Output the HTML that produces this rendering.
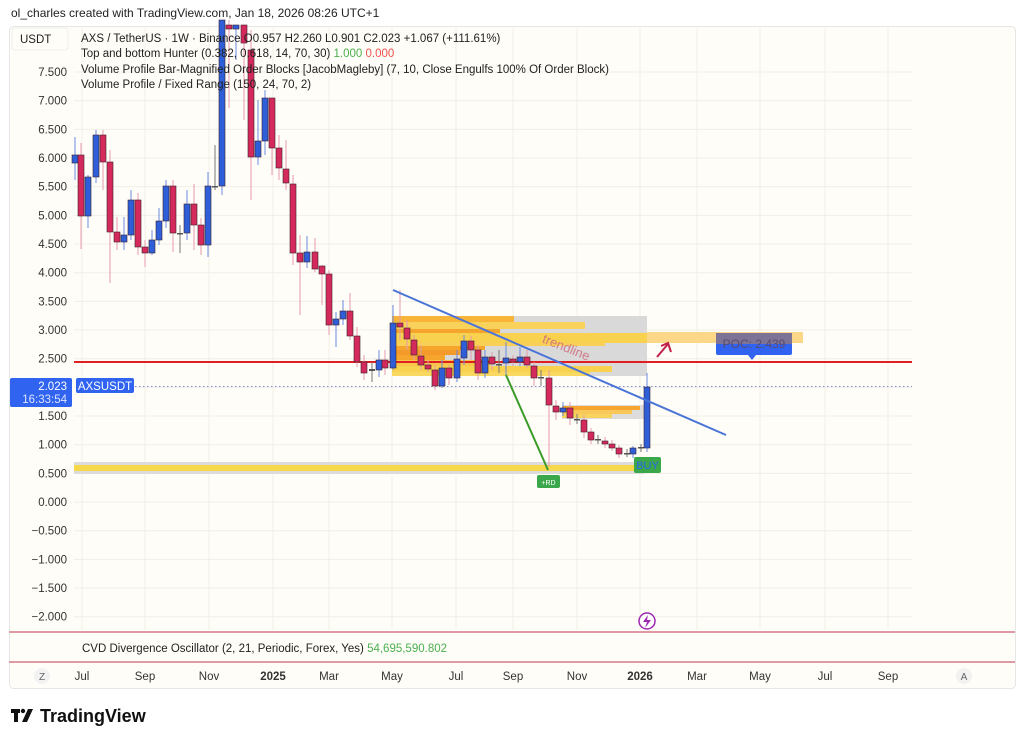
<!DOCTYPE html>
<html><head><meta charset="utf-8"><style>
body{margin:0;background:#fff;width:1024px;height:743px;overflow:hidden;font-family:"Liberation Sans",Arial,sans-serif}
svg text{font-family:"Liberation Sans",Arial,sans-serif}
</style></head><body>
<svg id="s" width="1024" height="743" xmlns="http://www.w3.org/2000/svg">
<text x="11" y="17" font-size="12" fill="#222">ol_charles created with TradingView.com, Jan 18, 2026 08:26 UTC+1</text>
<rect x="9.5" y="26.5" width="1006" height="662" rx="4" fill="#fffdf7" stroke="#e6e6e6"/>
<g id="grid" stroke="#f0eee6" stroke-width="1"></g>
<g id="ylab" font-size="11.5" fill="#333" text-anchor="end"></g>
<!-- bottom band -->
<rect x="74" y="462" width="570" height="12" fill="#dcdcdc"/>
<rect x="74" y="465" width="566" height="6" fill="#f5d94a"/>
<!-- volume profile -->
<rect x="392" y="316" width="255" height="60" fill="#d9d9d9"/>
<g id="vp"></g>
<rect x="647" y="332" width="156" height="11" fill="#fbd787"/>
<!-- small OB -->
<rect x="562" y="405" width="84" height="14" fill="#dcdcdc"/>
<rect x="562" y="406" width="78" height="4" fill="#f7a52e"/>
<rect x="562" y="410" width="70" height="4" fill="#f9c85a"/>
<rect x="562" y="414" width="50" height="4" fill="#f8d45e"/>
<!-- red line / dotted -->
<line x1="74" y1="362" x2="912" y2="362" stroke="#e02020" stroke-width="2"/>
<line x1="135" y1="386.5" x2="912" y2="386.5" stroke="#7b8ad0" stroke-dasharray="1.5,2.5"/>
<g id="cd"></g>
<!-- lines -->
<line x1="393" y1="290" x2="726" y2="435" stroke="#4a74d8" stroke-width="2"/>
<line x1="506" y1="375" x2="548" y2="470" stroke="#3a9a2a" stroke-width="2"/>
<text x="538" y="350" font-size="13" fill="#d07080" transform="rotate(22 560 355)" opacity="0.9">trendline</text>
<line x1="657" y1="357" x2="668" y2="344" stroke="#c0204a" stroke-width="2"/>
<polyline points="661,346 668,343 671,352" fill="none" stroke="#c0204a" stroke-width="2"/>
<!-- POC label -->
<rect x="716" y="333" width="76" height="22" rx="2" fill="#2f63f0"/>
<polygon points="748,355 756,355 752,360" fill="#2f63f0"/>
<rect x="716" y="333" width="76" height="11" fill="#7d7396"/>
<text x="754" y="348" font-size="12" text-anchor="middle" fill="#5a4a70">POC: 2.439</text>
<!-- BUY / RD -->
<rect x="634" y="457" width="27" height="16" rx="2" fill="#3aa84a"/>
<text x="647.5" y="469" font-size="11" text-anchor="middle" fill="#2f63f0">BUY</text>
<rect x="537" y="475" width="23" height="13" rx="2" fill="#3aa84a"/>
<text x="548.5" y="485" font-size="7" text-anchor="middle" fill="#fff">+RD</text>
<!-- price labels -->
<rect x="10" y="378" width="62" height="29" rx="2" fill="#2f63f0"/>
<text x="67" y="390" font-size="11.5" text-anchor="end" fill="#fff">2.023</text>
<text x="67" y="403" font-size="11.5" text-anchor="end" fill="#dce4ff">16:33:54</text>
<rect x="76" y="378" width="58" height="15" rx="2" fill="#2f63f0"/>
<text x="105" y="390" font-size="11.5" text-anchor="middle" fill="#fff">AXSUSDT</text>
<!-- legend -->
<rect x="12" y="28" width="56" height="22" rx="3" fill="#fffdf7" stroke="#eee"/>
<text x="20" y="43" font-size="11.5" fill="#222">USDT</text>
<g font-size="11.5" fill="#222">
<text x="81" y="42">AXS / TetherUS · 1W · Binance  O0.957  H2.260  L0.901  C2.023  +1.067 (+111.61%)</text>
<text x="81" y="57">Top and bottom Hunter (0.382, 0.618, 14, 70, 30)  <tspan fill="#4caf50">1.000</tspan>  <tspan fill="#ef5350">0.000</tspan></text>
<text x="81" y="73">Volume Profile Bar-Magnified Order Blocks [JacobMagleby] (7, 10, Close Engulfs 100% Of Order Block)</text>
<text x="81" y="88">Volume Profile / Fixed Range (150, 24, 70, 2)</text>
</g>
<!-- lightning -->
<circle cx="647" cy="621" r="8" fill="#fff" stroke="#9c27b0" stroke-width="1.5"/>
<polygon points="648,615 643,622 647,622 645,628 651,620 647,620" fill="#9c27b0"/>
<!-- pane separators -->
<line x1="9" y1="632" x2="1015" y2="632" stroke="#e09aa6" stroke-width="2"/>
<line x1="9" y1="662" x2="1015" y2="662" stroke="#e09aa6" stroke-width="2"/>
<text x="82" y="652" font-size="11.5" fill="#222">CVD Divergence Oscillator (2, 21, Periodic, Forex, Yes)  <tspan fill="#4caf50">54,695,590.802</tspan></text>
<g id="xlab" font-size="11.5" fill="#333" text-anchor="middle"></g>
<circle cx="42" cy="676" r="8" fill="#f2f2f2"/><text x="42" y="680" font-size="10" text-anchor="middle" fill="#666">Z</text>
<circle cx="964" cy="676" r="8" fill="#f2f2f2"/><text x="964" y="680" font-size="10" text-anchor="middle" fill="#666">A</text>
<!-- logo -->
<rect x="11" y="709" width="9" height="4" fill="#111"/><rect x="14" y="709" width="4" height="13" fill="#111"/>
<circle cx="23" cy="711" r="2.2" fill="#111"/><polygon points="28,709 33,709 27,722 22,722" fill="#111"/>
<text x="40" y="722" font-size="18" font-weight="bold" fill="#111">TradingView</text>
</svg>
<script>
var NS="http://www.w3.org/2000/svg";
function el(p,t,a){var e=document.createElementNS(NS,t);for(var k in a)e.setAttribute(k,a[k]);document.getElementById(p).appendChild(e);return e;}
// grid
var vx=[82,145,209,273,329,392,456,513,577,640,697,760,825,888];
vx.forEach(function(x){el("grid","line",{x1:x,y1:28,x2:x,y2:630});});
var labs=["7.500","7.000","6.500","6.000","5.500","5.000","4.500","4.000","3.500","3.000","2.500","2.000","1.500","1.000","0.500","0.000","−0.500","−1.000","−1.500","−2.000"];
for(var i=0;i<labs.length;i++){var y=72+i*28.67;el("grid","line",{x1:74,y1:y,x2:912,y2:y});
 if(i!=11){var t=el("ylab","text",{x:67,y:y+4});t.textContent=labs[i];}}
var xl=[["Jul",82],["Sep",145],["Nov",209],["2025",273,1],["Mar",329],["May",392],["Jul",456],["Sep",513],["Nov",577],["2026",640,1],["Mar",697],["May",760],["Jul",825],["Sep",888]];
xl.forEach(function(a){var t=el("xlab","text",{x:a[1],y:680});if(a[2])t.setAttribute("font-weight","bold");t.textContent=a[0];});
// volume profile bars [y1,y2,xend,color]
var vp=[[316,322,514,"#f7b437"],[322,329,585,"#f9d25c"],[329,333,500,"#f5a52c"],[333,343,647,"#f8d14f"],[343,346,605,"#f9cf58"],[346,350,485,"#f5a52c"],[350,355,460,"#f39a2a"],[355,360,445,"#f5a52c"],[360,366,490,"#f7c64a"],[366,372,612,"#f8d14f"],[372,376,590,"#f9d862"]];
vp.forEach(function(b){el("vp","rect",{x:392,y:b[0],width:b[2]-392,height:b[1]-b[0],fill:b[3]});});
// candles [x, top, bottom, wickTop, wickBot, color b/r/d]
var C=[[75,155,163,137,180,"b"],[81,155,216,143,249,"r"],[88,177,216,175,228,"b"],[96,135,177,130,183,"b"],[103,135,162,130,190,"r"],[110,162,232,150,283,"r"],[117,232,242,217,250,"r"],[124,235,242,217,250,"b"],[131,200,235,190,240,"b"],[138,200,247,193,255,"r"],[145,247,253,240,267,"r"],[152,240,253,230,255,"b"],[159,221,240,208,245,"b"],[166,186,221,180,228,"b"],[173,186,233,180,252,"r"],[180,233,234,225,253,"d"],[187,204,233,190,240,"b"],[194,204,225,184,250,"r"],[201,225,245,218,255,"r"],[208,186,245,172,257,"b"],[215,186,187,145,190,"d"],[222,20,186,20,195,"b"],[229,25,29,20,108,"r"],[236,25,29,25,60,"b"],[244,25,43,25,120,"r"],[251,50,157,30,200,"r"],[258,141,157,100,165,"b"],[265,98,141,90,155,"b"],[272,98,148,98,175,"r"],[279,148,168,135,180,"r"],[286,169,183,140,190,"r"],[293,184,253,175,265,"r"],[300,253,262,235,315,"r"],[307,252,262,236,268,"b"],[315,252,269,238,272,"r"],[322,266,274,265,305,"r"],[329,274,325,270,335,"r"],[336,319,325,312,347,"b"],[343,311,319,300,325,"b"],[350,311,336,293,340,"r"],[357,336,362,327,367,"r"],[364,362,373,355,380,"r"],[372,369,371,362,382,"d"],[379,360,370,350,377,"b"],[385,360,368,350,375,"r"],[393,323,368,305,370,"b"],[400,323,327,290,340,"r"],[407,328,339,320,350,"r"],[414,340,355,335,360,"r"],[421,356,365,345,370,"r"],[428,365,369,360,372,"r"],[435,370,386,365,390,"r"],[442,368,386,360,388,"b"],[449,368,378,365,385,"r"],[457,359,378,350,382,"b"],[464,341,358,335,365,"b"],[471,341,350,336,360,"r"],[478,350,373,345,380,"r"],[485,357,373,350,378,"b"],[492,357,364,352,370,"r"],[499,364,365,350,373,"d"],[506,358,363,342,375,"b"],[513,359,362,355,366,"r"],[520,357,362,347,366,"b"],[527,357,365,350,368,"r"],[534,366,378,362,386,"r"],[541,377,378,370,386,"d"],[549,378,405,370,467,"r"],[556,406,412,400,420,"r"],[563,408,412,402,416,"b"],[570,408,418,402,425,"r"],[577,419,420,414,424,"d"],[584,420,432,415,438,"r"],[591,432,440,428,444,"r"],[598,439,440,435,444,"d"],[605,441,444,437,448,"r"],[612,444,448,440,451,"r"],[619,448,454,445,458,"r"],[627,453,454,449,457,"d"],[633,448,454,446,458,"b"],[641,447,448,444,452,"d"],[647,387,448,373,452,"b"]];
C.forEach(function(c){var col=c[5]=="b"?"#2f5fd8":(c[5]=="r"?"#d42a5b":"#555");var wc=c[5]=="b"?"#6a8ae0":(c[5]=="r"?"#e49aac":"#777");
 el("cd","line",{x1:c[0],y1:c[3],x2:c[0],y2:c[4],stroke:wc,"stroke-width":1});
 el("cd","rect",{x:c[0]-3,y:c[1],width:6,height:Math.max(1.5,c[2]-c[1]),fill:col,stroke:"#3a2030","stroke-width":c[5]=="d"?0:0.6});});
</script>
</body></html>
